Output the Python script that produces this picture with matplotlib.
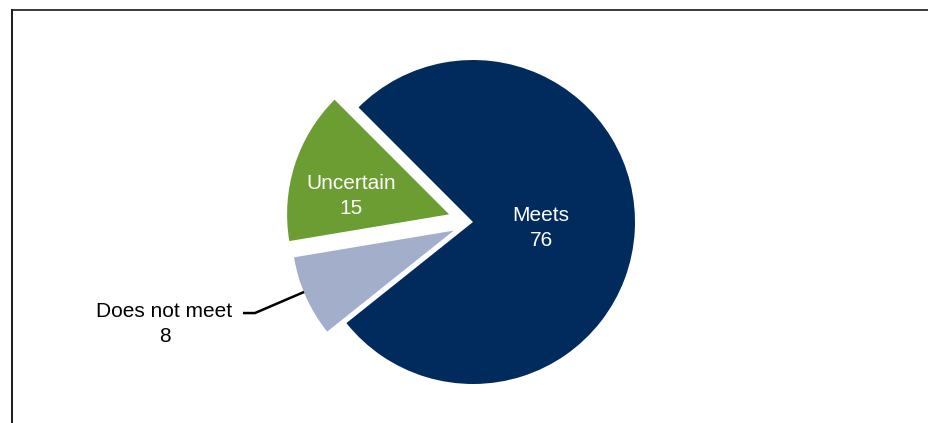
import matplotlib
matplotlib.use("Agg")
import matplotlib.pyplot as plt
from matplotlib.lines import Line2D

plt.rcParams['font.family'] = ['Liberation Sans', 'DejaVu Sans']

# data
labels = ["Meets", "Uncertain", "Does not meet"]
values = [76, 15, 8]
colors = ["#022B5D", "#6C9D33", "#A3AFCA"]
explode = [0.0, 0.155, 0.13]

fig = plt.figure(figsize=(9.29, 4.23), dpi=100)
ax = fig.add_axes([0, 0, 1, 1])

# pixel scale: radius 1 = 162 px, centre at (473, 222) from top-left
r_px = 162.0

wedges, _ = ax.pie(values, colors=colors, explode=explode, startangle=-141.4,
                   counterclock=True, radius=1.0, center=(0, 0),
                   wedgeprops=dict(linewidth=0), frame=True)
ax.set_xlim(-473 / r_px, (929 - 473) / r_px)
ax.set_ylim(-(423 - 222) / r_px, 222 / r_px)
ax.set_aspect('equal')
ax.axis('off')

# labels
ax.text(0.42, -0.04, "%s\n%d" % (labels[0], values[0]), color='white', fontsize=15,
        ha='center', va='center', linespacing=1.4)
ax.text(-0.753, 0.16, "%s\n%d" % (labels[1], values[1]), color='white', fontsize=15,
        ha='center', va='center', linespacing=1.35)
ax.text(-1.904, -0.63, "%s\n%d" % (labels[2], values[2]), color='black', fontsize=15,
        ha='center', va='center', linespacing=1.35)

# leader line for "Does not meet"
ax.plot([-1.42, -1.346, -1.043], [-0.562, -0.562, -0.432], color='black', lw=1.8,
        solid_capstyle='butt')

# outer frame (only top and left visible)
fig.add_artist(Line2D([12.5 / 929, 1.0], [1 - 10.5 / 423, 1 - 10.5 / 423],
                      transform=fig.transFigure, color='#3a3a3a', lw=1.4))
fig.add_artist(Line2D([12.5 / 929, 12.5 / 929], [0.0, 1 - 10.5 / 423],
                      transform=fig.transFigure, color='#1a1a1a', lw=1.4))

fig.savefig("out.png", dpi=100)
